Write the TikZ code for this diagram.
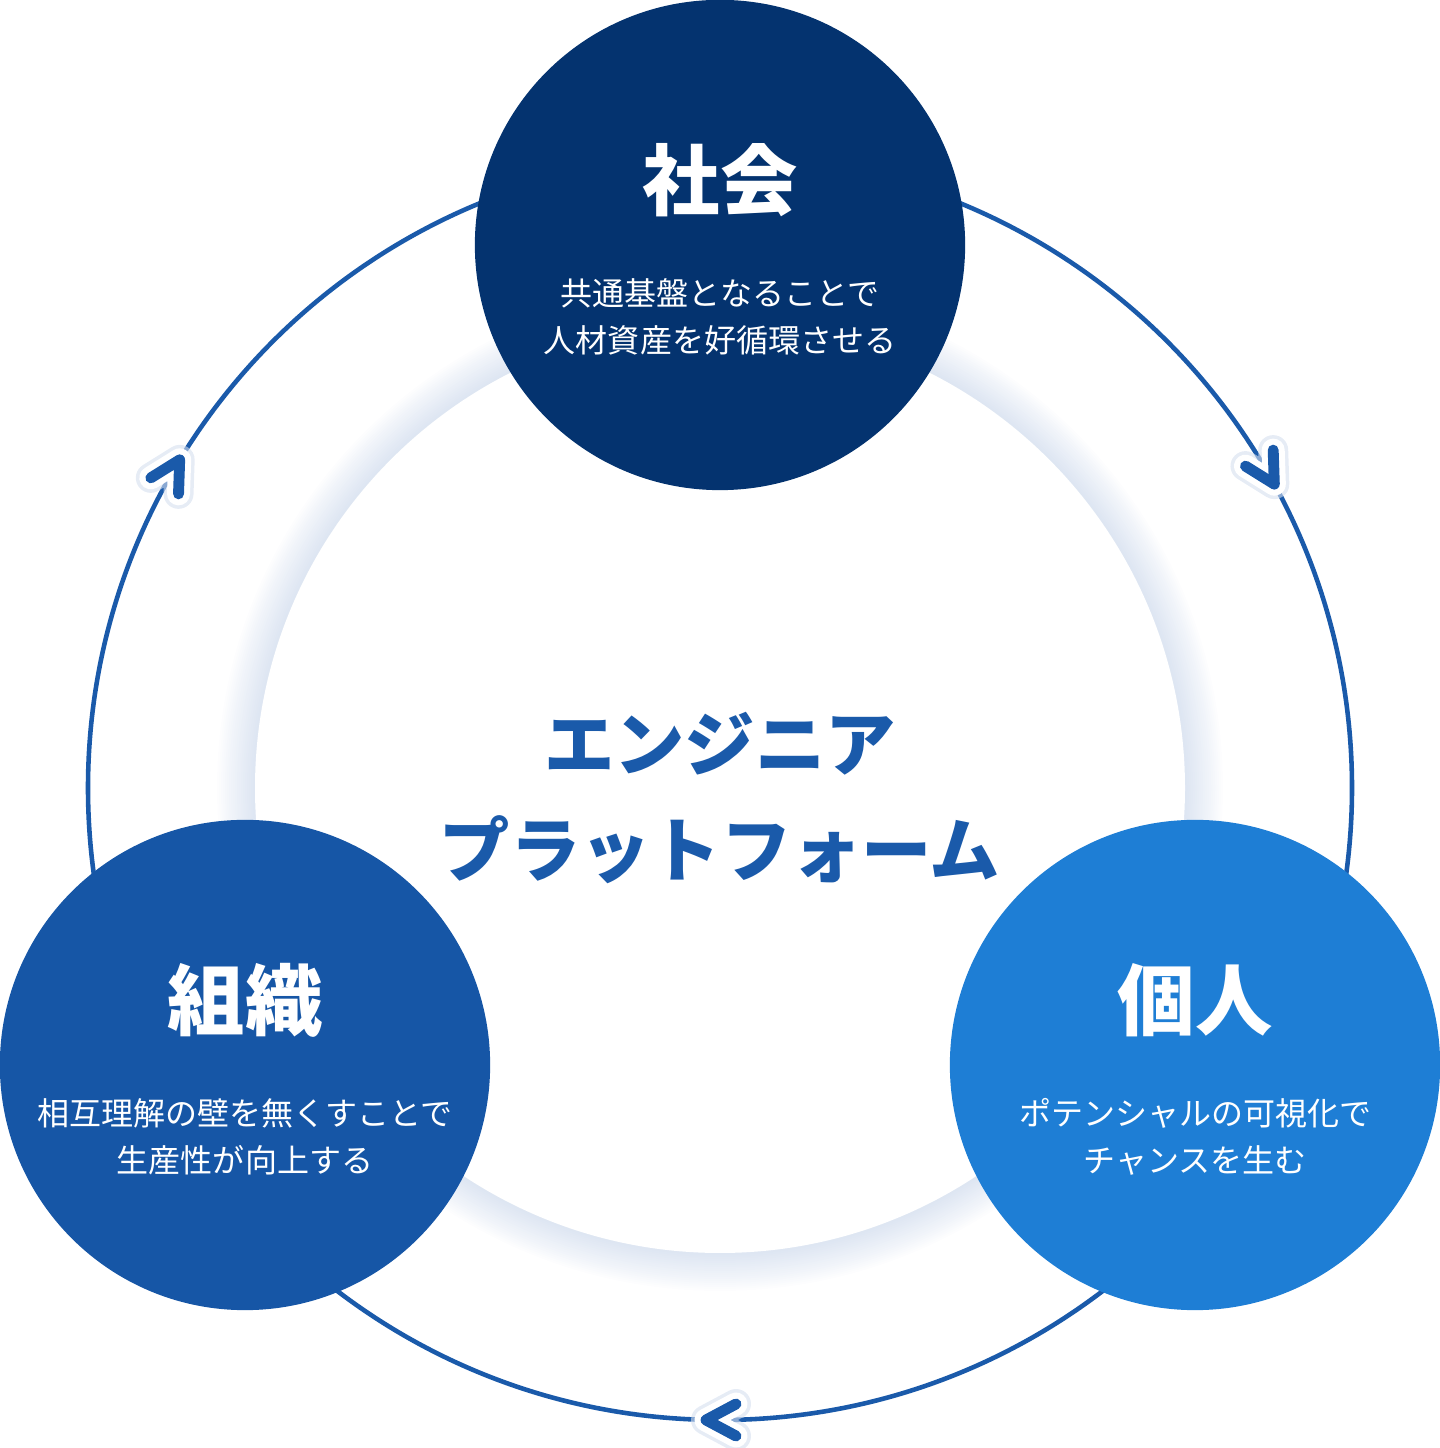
\documentclass[tikz,border=0pt]{standalone}
\usepackage{fontspec}
\setmainfont{Noto Sans CJK JP}
\usepackage{tikz}
\usetikzlibrary{arrows.meta, positioning, calc}

\definecolor{shakaiblue}{RGB}{4,51,111}
\definecolor{soshikiblue}{RGB}{22,86,166}
\definecolor{kojinblue}{RGB}{30,126,213}
\definecolor{ringblue}{RGB}{26,90,170}
\definecolor{glowblue}{RGB}{150,175,215}

\begin{document}
\begin{tikzpicture}[x=0.01cm, y=0.01cm,
        bubble/.style={circle, inner sep=0pt, minimum size=4.9cm},
        ttl/.style={text=white, font=\fontsize{22}{26}\selectfont\bfseries},
        sub/.style={text=white, align=center,
                    font=\fontsize{9.1}{13.4}\selectfont},
        ring/.style={line width=1.3pt, ringblue},
        chevron/.pic={
            \draw[glowblue!40, line width=3mm, line cap=round, line join=round,
                  opacity=0.6] (-16,16) -- (14,0) -- (-16,-16);
            \draw[white, line width=2.3mm, line cap=round, line join=round]
                  (-16,16) -- (14,0) -- (-16,-16);
            \draw[ringblue, line width=3.1pt, line cap=round, line join=round]
                  (-16,16) -- (14,0) -- (-16,-16);
        }
    ]
        \useasboundingbox (0,0) rectangle (1440,1448);
        \coordinate (mid) at (720,660);
        % outer cycle
        \draw[ring] (mid) circle (632);
        % soft shadow round the platform
        \foreach \g in {38,36,...,2}
            \fill[glowblue, opacity=0.018] (mid) circle (465+\g);
        \fill[white] (mid) circle (465);
        \node[align=center, text=ringblue,
              font=\fontsize{20}{30}\selectfont\bfseries] (platform)
              at (720,650) {エンジニア\\プラットフォーム};

        \node[bubble, fill=shakaiblue]  (shakai)  at (720,1203) {};
        \node[bubble, fill=soshikiblue] (soshiki) at (245,383)  {};
        \node[bubble, fill=kojinblue]   (kojin)   at (1195,383) {};

        \node[ttl] (shakai-t)  at ([yshift=0.65cm]shakai)  {社会};
        \node[ttl] (soshiki-t) at ([yshift=0.65cm]soshiki) {組織};
        \node[ttl] (kojin-t)   at ([yshift=0.65cm]kojin)   {個人};
        \node[sub] (shakai-s)  at ([yshift=-0.715cm]shakai)
              {共通基盤となることで\\人材資産を好循環させる};
        \node[sub] (soshiki-s) at ([yshift=-0.715cm]soshiki)
              {相互理解の壁を無くすことで\\生産性が向上する};
        \node[sub] (kojin-s)   at ([yshift=-0.715cm]kojin)
              {ポテンシャルの可視化で\\チャンスを生む};

        % arrow marks along the cycle (clockwise)
        \foreach \a in {150,30,270}
            \pic[rotate=\a-90] at ($(mid)+(\a:632)$) {chevron};
    \end{tikzpicture}
\end{document}
